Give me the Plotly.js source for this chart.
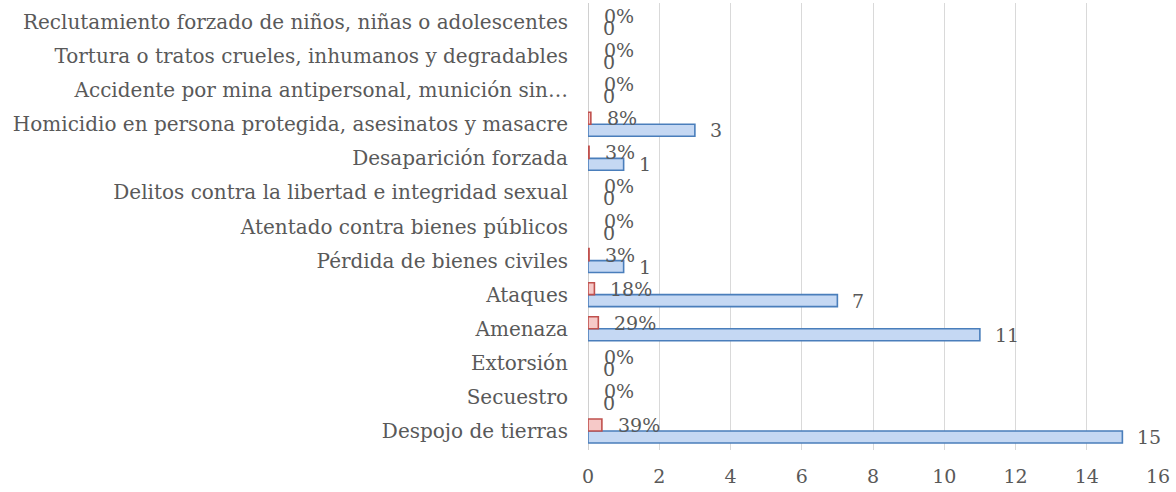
<!DOCTYPE html>
<html>
<head>
<meta charset="utf-8">
<script src="https://cdn.plot.ly/plotly-3.0.1.min.js"></script>
<style>html,body{margin:0;padding:0;background:#fff;}#chart{width:1176px;height:492px;}</style>
</head>
<body>
<div id="chart"></div>
<script>
// Categories listed bottom to top
const categories = [
  "Despojo de tierras",
  "Secuestro",
  "Extorsión",
  "Amenaza",
  "Ataques",
  "Pérdida de bienes civiles",
  "Atentado contra bienes públicos",
  "Delitos contra la libertad e integridad sexual",
  "Desaparición forzada",
  "Homicidio en persona protegida, asesinatos y masacre",
  "Accidente por mina antipersonal, munición sin…",
  "Tortura o tratos crueles, inhumanos y degradables",
  "Reclutamiento forzado de niños, niñas o adolescentes"
];
const counts = [15, 0, 0, 11, 7, 1, 0, 0, 1, 3, 0, 0, 0];
const shares = [0.39, 0, 0, 0.29, 0.18, 0.03, 0, 0, 0.03, 0.08, 0, 0, 0];
const xTicks = [0, 2, 4, 6, 8, 10, 12, 14, 16];

const fontFam = "DejaVu Serif, serif";
const grey = "#595959";

const traces = [
  {
    type: "bar", orientation: "h", name: "Cantidad",
    y: categories, x: counts,
    marker: {color: "#c5d8f3", line: {color: "#4a7ebb", width: counts.map(v => v === 0 ? 0 : 1.6)}},
    hoverinfo: "none"
  },
  {
    type: "bar", orientation: "h", name: "Porcentaje",
    y: categories, x: shares,
    marker: {color: "#f6c9c8", line: {color: "#c0504d", width: shares.map(v => v === 0 ? 0 : 1.6)}},
    hoverinfo: "none"
  }
];

const annotations = [];
categories.forEach((c, i) => {
  annotations.push({
    x: counts[i], y: c, xref: "x", yref: "y",
    text: String(counts[i]), showarrow: false,
    xanchor: "left", yanchor: "middle", xshift: 13, yshift: -6,
    font: {family: fontFam, size: 19, color: grey}
  });
  annotations.push({
    x: shares[i], y: c, xref: "x", yref: "y",
    text: Math.round(shares[i] * 100) + "%", showarrow: false,
    xanchor: "left", yanchor: "middle", xshift: 14, yshift: 6,
    font: {family: fontFam, size: 19, color: grey}
  });
});

const layout = {
  width: 1176, height: 492,
  margin: {l: 588, r: 18, t: 3, b: 42},
  paper_bgcolor: "#ffffff", plot_bgcolor: "#ffffff",
  barmode: "group", bargap: 0.3, bargroupgap: 0,
  showlegend: false,
  font: {family: fontFam, size: 19, color: grey},
  xaxis: {
    range: [0, 16], tickvals: xTicks, ticktext: xTicks.map(String),
    showgrid: true, gridcolor: "#d9d9d9", gridwidth: 1,
    zeroline: true, zerolinecolor: "#d0d0d0", zerolinewidth: 1,
    showline: false, ticks: "outside", ticklen: 9, tickcolor: "rgba(0,0,0,0)",
    fixedrange: true,
    tickfont: {family: fontFam, size: 19, color: grey}
  },
  yaxis: {
    type: "category", categoryorder: "array", categoryarray: categories,
    showgrid: false, zeroline: false, showline: false,
    ticks: "outside", ticklen: 15, tickcolor: "rgba(0,0,0,0)",
    tickfont: {family: fontFam, size: 20, color: grey},
    fixedrange: true
  },
  annotations: annotations
};

Plotly.newPlot("chart", traces, layout, {displayModeBar: false, staticPlot: true});
</script>
</body>
</html>
